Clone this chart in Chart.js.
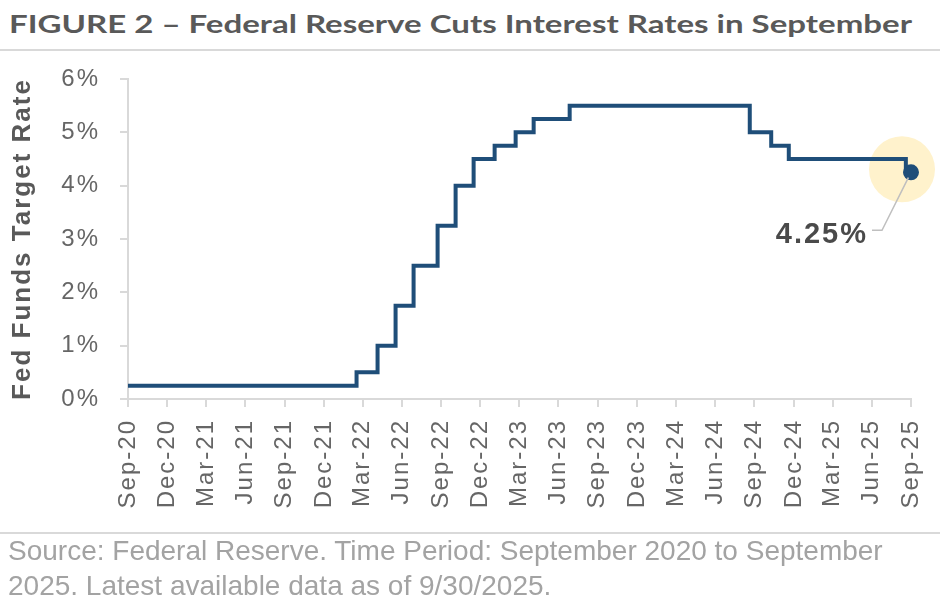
<!DOCTYPE html>
<html>
<head>
<meta charset="utf-8">
<script src="https://cdn.jsdelivr.net/npm/chart.js@4.4.1/dist/chart.umd.min.js"></script>
<style>
  html, body { margin: 0; padding: 0; background: #fff; }
  #wrap { position: relative; width: 940px; height: 612px; overflow: hidden; }
  #title { position: absolute; left: 9px; top: 8px; display: inline-block; font-family: Lato, "Liberation Sans", sans-serif; font-weight: 700; font-size: 25.5px; line-height: 1.2; color: #595959; white-space: nowrap; transform-origin: 0 0; }
  #rule1 { position: absolute; left: 0; top: 49px; width: 940px; height: 2px; background: #d9d9d9; }
  #rule2 { position: absolute; left: 0; top: 532px; width: 940px; height: 2px; background: #d9d9d9; }
  #foot { position: absolute; left: 8px; top: 533px; font-family: "Liberation Sans", Arial, sans-serif; font-size: 28px; line-height: 35px; color: #a3a3a3; white-space: nowrap; }
  #c { position: absolute; left: 0; top: 0; }
</style>
</head>
<body>
<div id="wrap">
  <div id="title">FIGURE 2 – Federal Reserve Cuts Interest Rates in September</div>
  <div id="rule1"></div>
  <canvas id="c" width="940" height="612"></canvas>
  <div id="rule2"></div>
  <div id="foot">Source: Federal Reserve. Time Period: September 2020 to September<br>2025. Latest available data as of 9/30/2025.</div>
</div>
<script>
// ---- data (upper bound of the Fed Funds target range, effective dates) ----
const rateChangeDates = ['2020-09-30','2022-03-17','2022-05-05','2022-06-16','2022-07-28','2022-09-22','2022-11-03','2022-12-15','2023-02-02','2023-03-23','2023-05-04','2023-07-27','2024-09-19','2024-11-08','2024-12-19','2025-09-18','2025-09-30'];
const rateValues = [0.25,0.50,1.00,1.75,2.50,3.25,4.00,4.50,4.75,5.00,5.25,5.50,5.00,4.75,4.50,4.25,4.25];
const xTickLabels = ['Sep-20','Dec-20','Mar-21','Jun-21','Sep-21','Dec-21','Mar-22','Jun-22','Sep-22','Dec-22','Mar-23','Jun-23','Sep-23','Dec-23','Mar-24','Jun-24','Sep-24','Dec-24','Mar-25','Jun-25','Sep-25'];
const yTickValues = [0,1,2,3,4,5,6];
const startDate = '2020-09-30';
const endDate = '2025-09-30';

// fit title width to reference
(function () {
  const t = document.getElementById('title');
  const w = t.getBoundingClientRect().width;
  t.style.transform = 'scaleX(' + (903 / w) + ')';
})();

const MONTHS = {Jan:0,Feb:1,Mar:2,Apr:3,May:4,Jun:5,Jul:6,Aug:7,Sep:8,Oct:9,Nov:10,Dec:11};
const DAY = 86400000;
const t0 = Date.parse(startDate + 'T00:00:00Z');
function dayOf(iso) { return (Date.parse(iso + 'T00:00:00Z') - t0) / DAY; }
function labelDay(lbl) {
  const [m, y] = lbl.split('-');
  const yr = 2000 + parseInt(y, 10);
  const monthEnd = Date.UTC(yr, MONTHS[m] + 1, 0);
  return (monthEnd - t0) / DAY;
}

const points = rateChangeDates.map((d, i) => ({ x: dayOf(d), y: rateValues[i] }));
const lastIdx = points.length - 1;

const spacing = {
  id: 'spacing',
  beforeUpdate(chart) { chart.ctx.letterSpacing = '2px'; },
  beforeLayout(chart) { chart.ctx.letterSpacing = '2px'; },
  beforeDraw(chart) { chart.ctx.letterSpacing = '2px'; }
};

const highlight = {
  id: 'highlight',
  beforeDatasetsDraw(chart) {
    const p = chart.getDatasetMeta(0).data[lastIdx];
    const ctx = chart.ctx;
    ctx.save();
    ctx.fillStyle = '#fff2cc';
    ctx.beginPath();
    ctx.arc(p.x - 9, p.y - 3, 33, 0, Math.PI * 2);
    ctx.fill();
    ctx.restore();
  },
  afterDatasetsDraw(chart) {
    const p = chart.getDatasetMeta(0).data[lastIdx];
    const ctx = chart.ctx;
    ctx.save();
    ctx.strokeStyle = '#bfbfbf';
    ctx.lineWidth = 1.5;
    ctx.beginPath();
    ctx.moveTo(p.x, p.y);
    ctx.lineTo(p.x - 29, p.y + 58);
    ctx.lineTo(p.x - 39, p.y + 58);
    ctx.stroke();
    ctx.letterSpacing = '2px';
    ctx.font = 'bold 29px "Liberation Sans", Arial, sans-serif';
    ctx.fillStyle = '#4a4a4a';
    ctx.textAlign = 'right';
    ctx.textBaseline = 'alphabetic';
    ctx.fillText(rateValues[lastIdx].toFixed(2) + '%', p.x - 43, p.y + 71);
    ctx.fillStyle = '#1f4e79';
    ctx.beginPath();
    ctx.arc(p.x, p.y, 6, 0, Math.PI * 2);
    ctx.fill();
    ctx.restore();
  }
};

const tickFont = { family: '"Liberation Sans", Arial, sans-serif', size: 24 };

new Chart(document.getElementById('c'), {
  type: 'line',
  data: {
    datasets: [{
      data: points,
      borderColor: '#1f4e79',
      backgroundColor: '#1f4e79',
      borderWidth: 4,
      stepped: true,
      pointRadius: ctx => ctx.dataIndex === lastIdx ? 6 : 0,
      pointHoverRadius: 0,
      clip: false
    }]
  },
  options: {
    responsive: false,
    animation: false,
    events: [],
    layout: { padding: { top: 79, right: 29, bottom: 0, left: 0 } },
    plugins: { legend: { display: false }, tooltip: { enabled: false } },
    scales: {
      x: {
        type: 'linear',
        min: 0,
        max: dayOf(endDate),
        afterFit: s => { s.height = 213; s.paddingLeft = 0; s.paddingRight = 0; },
        afterBuildTicks: s => { s.ticks = xTickLabels.map(l => ({ value: labelDay(l) })); },
        ticks: {
          autoSkip: false,
          minRotation: 90,
          maxRotation: 90,
          padding: 12,
          color: '#666666',
          font: tickFont,
          callback: (v, i) => xTickLabels[i]
        },
        grid: { drawOnChartArea: false, drawTicks: true, tickLength: 8, color: '#d9d9d9', lineWidth: 2 },
        border: { color: '#d9d9d9', width: 2 }
      },
      y: {
        min: 0,
        max: 6,
        afterFit: s => { s.width = 128; s.paddingTop = 0; s.paddingBottom = 0; },
        afterBuildTicks: s => { s.ticks = yTickValues.map(v => ({ value: v })); },
        ticks: {
          padding: 20,
          color: '#666666',
          font: tickFont,
          callback: v => v + '%'
        },
        grid: { drawOnChartArea: false, drawTicks: true, tickLength: 8, color: '#d9d9d9', lineWidth: 2 },
        border: { color: '#d9d9d9', width: 2 },
        title: {
          display: true,
          text: 'Fed Funds Target Rate',
          color: '#595959',
          font: { family: '"Liberation Sans", Arial, sans-serif', size: 26, weight: 'bold', lineHeight: 1 },
          padding: { top: 10, bottom: 0 }
        }
      }
    }
  },
  plugins: [spacing, highlight]
});
</script>
</body>
</html>
